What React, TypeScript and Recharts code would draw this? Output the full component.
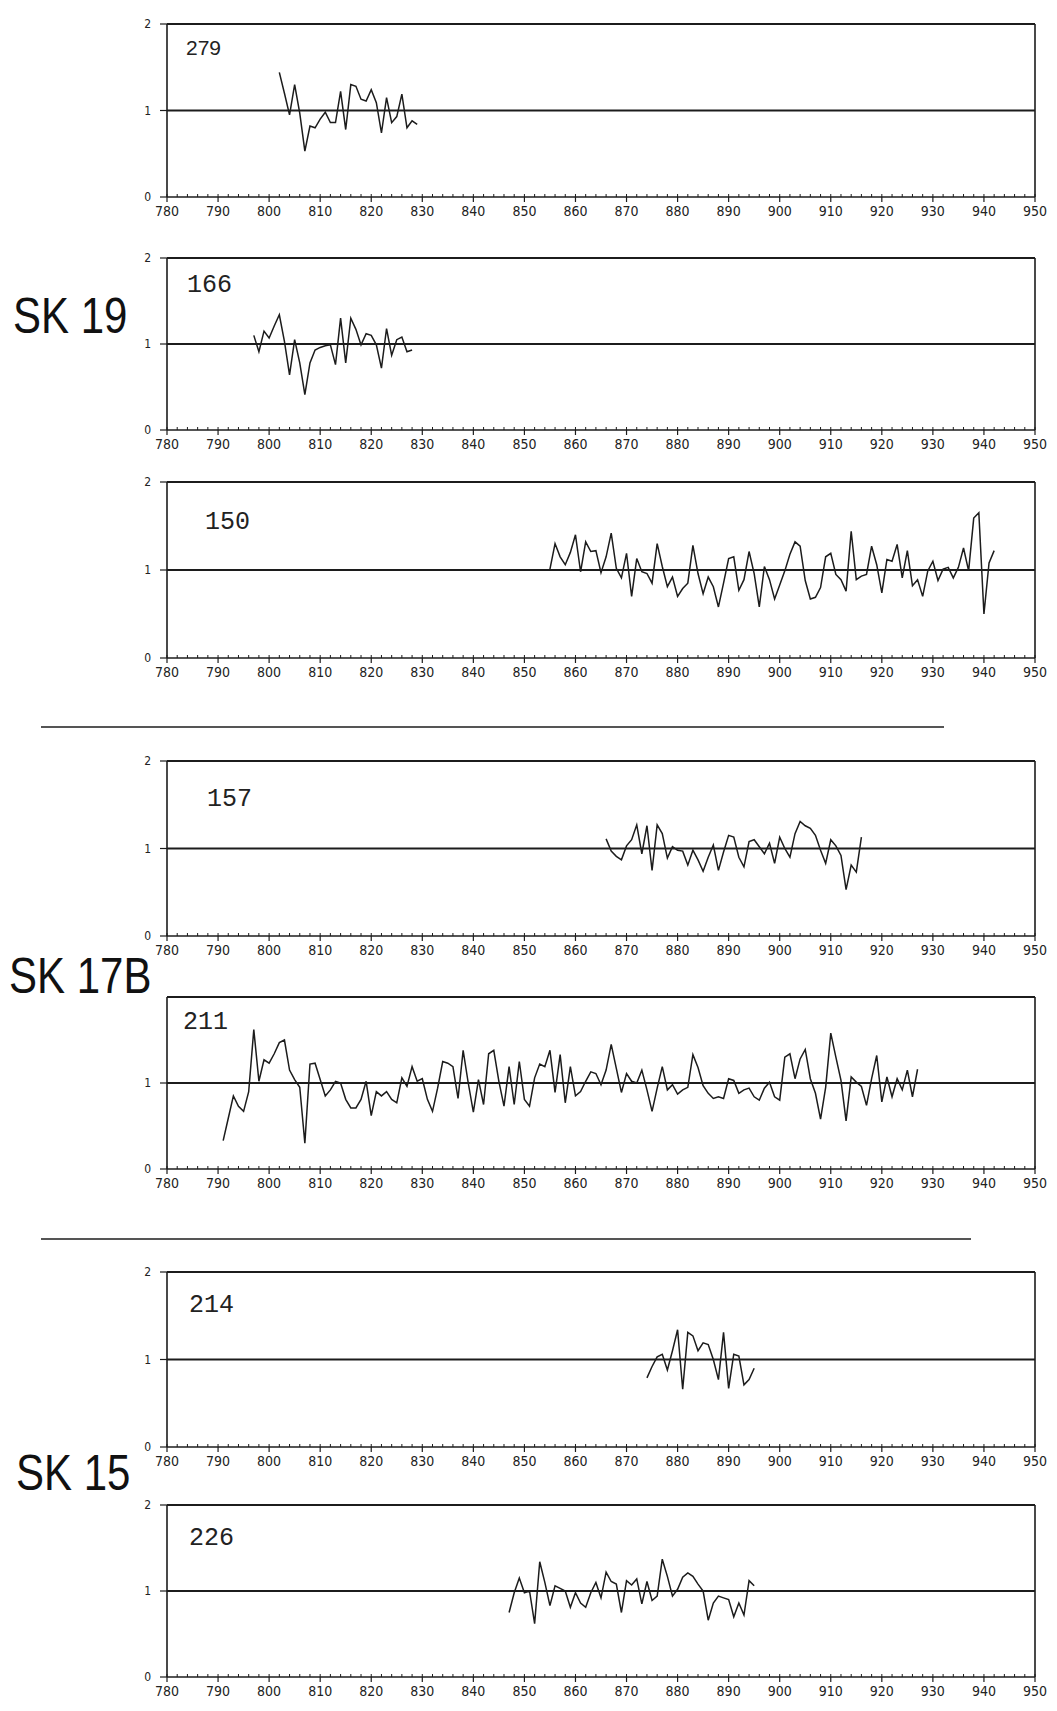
import React from "react";
import { LineChart, Line, XAxis, YAxis, ReferenceLine } from "recharts";

// tick labels
const YEAR_LABELS = [780, 790, 800, 810, 820, 830, 840, 850, 860, 870, 880, 890, 900, 910, 920, 930, 940, 950];
const Y_TICKS = [0, 1, 2];
// small ticks every second year along the bottom axis
const MINOR_TICKS = Array.from({ length: 86 }, (_, i) => 780 + i * 2);

// ring-width index series, one value per year from the start year
const s279Start = 802;
const s279 = [1.44, 1.2, 0.95, 1.3, 0.97, 0.53, 0.82, 0.8, 0.9, 0.98, 0.86, 0.86, 1.22, 0.78, 1.3, 1.28, 1.13, 1.11, 1.24, 1.09, 0.74, 1.15, 0.86, 0.93, 1.19, 0.8, 0.88, 0.84];

const s166Start = 797;
const s166 = [1.1, 0.91, 1.15, 1.07, 1.21, 1.34, 1.03, 0.64, 1.05, 0.78, 0.41, 0.78, 0.93, 0.96, 0.98, 0.99, 0.76, 1.3, 0.78, 1.3, 1.17, 0.99, 1.12, 1.1, 0.99, 0.72, 1.18, 0.87, 1.05, 1.08, 0.91, 0.93];

const s150Start = 855;
const s150 = [
  1.01, 1.3, 1.15, 1.06, 1.2, 1.4, 0.98, 1.32, 1.21, 1.22, 0.97, 1.15, 1.42, 1.02, 0.91, 1.19, 0.7, 1.13, 0.98, 0.96,
  0.85, 1.3, 1.04, 0.81, 0.92, 0.7, 0.79, 0.85, 1.28, 0.96, 0.73, 0.92, 0.81, 0.58, 0.85, 1.13, 1.15, 0.77, 0.89, 1.21,
  0.96, 0.58, 1.04, 0.89, 0.67, 0.83, 0.99, 1.18, 1.32, 1.27, 0.88, 0.67, 0.69, 0.8, 1.15, 1.19, 0.95, 0.89, 0.76, 1.44,
  0.89, 0.93, 0.95, 1.27, 1.06, 0.74, 1.12, 1.1, 1.29, 0.91, 1.22, 0.82, 0.89, 0.7, 0.99, 1.1, 0.88, 1.01, 1.03, 0.91,
  1.03, 1.25, 0.99, 1.59, 1.65, 0.5, 1.08, 1.22,
];

const s157Start = 866;
const s157 = [
  1.11, 0.97, 0.91, 0.87, 1.03, 1.1, 1.27, 0.94, 1.26, 0.75, 1.27, 1.17, 0.89, 1.02, 0.98, 0.97, 0.81, 0.98, 0.87, 0.74,
  0.9, 1.04, 0.75, 0.96, 1.15, 1.13, 0.9, 0.79, 1.08, 1.1, 1.02, 0.94, 1.06, 0.83, 1.13, 1.0, 0.9, 1.17, 1.31, 1.26,
  1.23, 1.15, 0.98, 0.83, 1.1, 1.03, 0.92, 0.53, 0.81, 0.73, 1.13,
];

const s211Start = 791;
const s211 = [
  0.33, 0.59, 0.85, 0.73, 0.67, 0.9, 1.62, 1.02, 1.27, 1.23, 1.34, 1.47, 1.5, 1.15, 1.04, 0.95, 0.3, 1.22, 1.23, 1.04,
  0.85, 0.92, 1.02, 1.0, 0.81, 0.71, 0.71, 0.81, 1.02, 0.62, 0.9, 0.85, 0.9, 0.81, 0.77, 1.06, 0.96, 1.19, 1.02, 1.05,
  0.81, 0.67, 0.94, 1.25, 1.23, 1.19, 0.82, 1.38, 1.0, 0.66, 1.04, 0.75, 1.34, 1.38, 1.02, 0.73, 1.19, 0.75, 1.25, 0.81,
  0.73, 1.06, 1.22, 1.19, 1.38, 0.89, 1.33, 0.77, 1.19, 0.85, 0.9, 1.02, 1.13, 1.11, 0.98, 1.15, 1.45, 1.17, 0.89, 1.11,
  1.02, 1.0, 1.15, 0.92, 0.67, 0.94, 1.19, 0.92, 0.98, 0.87, 0.92, 0.95, 1.33, 1.18, 0.97, 0.88, 0.82, 0.84, 0.82, 1.05,
  1.03, 0.88, 0.92, 0.94, 0.84, 0.8, 0.94, 1.01, 0.84, 0.8, 1.3, 1.34, 1.05, 1.28, 1.39, 1.05, 0.88, 0.58, 0.95, 1.58,
  1.3, 1.03, 0.56, 1.07, 1.01, 0.96, 0.74, 1.05, 1.32, 0.78, 1.07, 0.84, 1.05, 0.92, 1.15, 0.84, 1.16,
];

const s214Start = 874;
const s214 = [0.79, 0.92, 1.03, 1.06, 0.88, 1.1, 1.34, 0.66, 1.31, 1.27, 1.1, 1.19, 1.17, 1.0, 0.77, 1.31, 0.67, 1.06, 1.04, 0.71, 0.77, 0.9];

const s226Start = 847;
const s226 = [
  0.75, 0.98, 1.15, 0.98, 1.0, 0.62, 1.34, 1.1, 0.83, 1.06, 1.03, 1.0, 0.81, 0.98, 0.86, 0.81, 0.98, 1.1, 0.92, 1.22,
  1.11, 1.08, 0.75, 1.12, 1.07, 1.14, 0.85, 1.11, 0.89, 0.94, 1.37, 1.17, 0.94, 1.02, 1.16, 1.21, 1.17, 1.08, 1.0, 0.66,
  0.86, 0.94, 0.92, 0.9, 0.7, 0.86, 0.72, 1.12, 1.06,
];

const toRows = (start: number, values: number[]) => values.map((v, i) => ({ year: start + i, v }));

const INK = "#1c1c1c";
const axisFont = "'Liberation Sans Narrow', 'DejaVu Sans Condensed', Arial, sans-serif";

const YearTick = (props: any) => {
  const { x, y, payload } = props;
  const major = YEAR_LABELS.includes(payload.value);
  return (
    <g>
      <line x1={x} x2={x} y1={y} y2={y - 3} stroke={INK} strokeWidth={1} />
      {major && <line x1={x} x2={x} y1={y} y2={y + 5} stroke={INK} strokeWidth={1.2} />}
      {major && (
        <text x={x} y={y + 19} textAnchor="middle" fontSize={14} fontFamily={axisFont} fill="#222">
          {payload.value}
        </text>
      )}
    </g>
  );
};

type PanelProps = {
  plotTop: number;
  plotBottom: number;
  rows: { year: number; v: number }[];
  yTicks?: number[];
};

const Panel = ({ plotTop, plotBottom, rows, yTicks = Y_TICKS }: PanelProps) => {
  const h = plotBottom - plotTop + 10 + 30;
  return (
    <div style={{ position: "absolute", left: 0, top: plotTop - 10 }}>
      <LineChart width={1057} height={h} data={rows} margin={{ top: 10, right: 22, bottom: 0, left: 137 }}>
        <XAxis
          dataKey="year"
          type="number"
          domain={[780, 950]}
          ticks={MINOR_TICKS}
          interval={0}
          height={30}
          tickSize={0}
          tickMargin={0}
          tickLine={false}
          tick={<YearTick />}
          axisLine={{ stroke: INK, strokeWidth: 1.6 }}
        />
        <YAxis
          type="number"
          domain={[0, 2]}
          ticks={yTicks}
          interval={0}
          width={30}
          tickSize={7}
          tickMargin={9}
          tick={{ fontSize: 12, fontFamily: axisFont, fill: "#222" }}
          tickLine={{ stroke: INK, strokeWidth: 1.2 }}
          axisLine={{ stroke: INK, strokeWidth: 1.6 }}
        />
        <ReferenceLine y={2} stroke={INK} strokeWidth={2} />
        <ReferenceLine x={950} stroke={INK} strokeWidth={1.6} />
        <ReferenceLine y={1} stroke={INK} strokeWidth={1.8} />
        <Line type="linear" dataKey="v" stroke={INK} strokeWidth={1.5} dot={false} isAnimationActive={false} />
      </LineChart>
    </div>
  );
};

const monoFont = "'Liberation Mono', 'Courier New', monospace";
const sansFont = "'Liberation Sans', Arial, sans-serif";

const App = () => (
  <div style={{ position: "absolute", left: 0, top: 0, width: 1057, height: 1711, background: "#fff" }}>
    <Panel plotTop={24} plotBottom={197} rows={toRows(s279Start, s279)} />
    <Panel plotTop={258} plotBottom={430} rows={toRows(s166Start, s166)} />
    <Panel plotTop={482} plotBottom={658} rows={toRows(s150Start, s150)} />
    <Panel plotTop={761} plotBottom={936} rows={toRows(s157Start, s157)} />
    <Panel plotTop={997} plotBottom={1169} rows={toRows(s211Start, s211)} yTicks={[0, 1]} />
    <Panel plotTop={1272} plotBottom={1447} rows={toRows(s214Start, s214)} />
    <Panel plotTop={1505} plotBottom={1677} rows={toRows(s226Start, s226)} />

    <svg
      width={1057}
      height={1711}
      style={{ position: "absolute", left: 0, top: 0, pointerEvents: "none" }}
    >
      {/* sample numbers */}
      <text x={186} y={55} fontSize={21} fontFamily={sansFont} fill="#222">279</text>
      <text x={187} y={292} fontSize={25} fontFamily={monoFont} fill="#222">166</text>
      <text x={205} y={529} fontSize={25} fontFamily={monoFont} fill="#222">150</text>
      <text x={207} y={806} fontSize={25} fontFamily={monoFont} fill="#222">157</text>
      <text x={183} y={1029} fontSize={25} fontFamily={monoFont} fill="#222">211</text>
      <text x={189} y={1312} fontSize={25} fontFamily={monoFont} fill="#222">214</text>
      <text x={189} y={1545} fontSize={25} fontFamily={monoFont} fill="#222">226</text>

      {/* site names */}
      <g transform="translate(13,333) scale(1,1.18)">
        <text fontSize={42} fontFamily={sansFont} fill="#111">SK 19</text>
      </g>
      <g transform="translate(9,993) scale(1,1.18)">
        <text fontSize={42} fontFamily={sansFont} fill="#111">SK 17B</text>
      </g>
      <g transform="translate(16,1490) scale(1,1.18)">
        <text fontSize={42} fontFamily={sansFont} fill="#111">SK 15</text>
      </g>

      {/* group separators */}
      <line x1={41} x2={944} y1={727} y2={727} stroke={INK} strokeWidth={1.6} />
      <line x1={41} x2={971} y1={1239} y2={1239} stroke={INK} strokeWidth={1.6} />
    </svg>
  </div>
);

export default App;
